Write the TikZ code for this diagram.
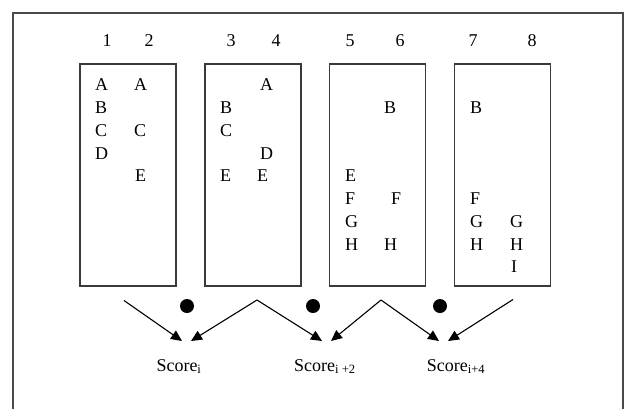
\documentclass[tikz,border=0pt]{standalone}
\usepackage{fontspec}
\setmainfont{Liberation Serif}
\usetikzlibrary{arrows.meta,positioning}
\definecolor{frameline}{HTML}{4A4A4A}
\definecolor{boxline}{HTML}{3A3A3A}

\begin{document}
\begin{tikzpicture}[
  x=1pt,y=-1pt,
  node distance=27.4pt,
  colbox/.style={draw=boxline,line width=1.4pt,minimum width=96pt,minimum height=222pt,inner sep=0pt},
  item/.style={anchor=base west,inner sep=0pt,font=\fontsize{18}{21}\selectfont},
  colnum/.style={inner sep=0pt,font=\fontsize{18}{21}\selectfont},
  score/.style={anchor=base,inner sep=0pt,font=\fontsize{18}{21}\selectfont},
  dot/.style={circle,fill=black,minimum size=14pt,inner sep=0pt},
  arrow/.style={-{Triangle[length=11pt,width=10pt]},line width=1.1pt}
]
  \useasboundingbox (0,0) rectangle (629,408);
  \draw[frameline,line width=1.2pt] (13,410) -- (13,13) -- (623,13) -- (623,410);

  % the four windows
  \node[colbox] (box1) at (128,175) {};
  \node[colbox,right=of box1] (box2) {};
  \node[colbox,right=of box2] (box3) {};
  \node[colbox,right=of box3] (box4) {};

  % column numbers
  \node[colnum] (num1) at (107,41) {1};
  \node[colnum] (num2) at (149,41) {2};
  \node[colnum] (num3) at (231,41) {3};
  \node[colnum] (num4) at (276,41) {4};
  \node[colnum] (num5) at (350,41) {5};
  \node[colnum] (num6) at (400,41) {6};
  \node[colnum] (num7) at (473,41) {7};
  \node[colnum] (num8) at (532,41) {8};

  % window 1
  \node[item] (c1a) at (95,90.8) {A};
  \node[item] (c1b) at (95,113.5) {B};
  \node[item] (c1c) at (95,136.3) {C};
  \node[item] (c1d) at (95,159) {D};
  \node[item] (c2a) at (134,90.8) {A};
  \node[item] (c2c) at (134,136.3) {C};
  \node[item] (c2e) at (135,181.8) {E};

  % window 2
  \node[item] (c3b) at (220,113.5) {B};
  \node[item] (c3c) at (220,136.3) {C};
  \node[item] (c3e) at (220,181.8) {E};
  \node[item] (c4a) at (260,90.8) {A};
  \node[item] (c4d) at (260,159) {D};
  \node[item] (c4e) at (257,181.8) {E};

  % window 3
  \node[item] (c5e) at (345,181.8) {E};
  \node[item] (c5f) at (345,204.5) {F};
  \node[item] (c5g) at (345,227.3) {G};
  \node[item] (c5h) at (345,250) {H};
  \node[item] (c6b) at (384,113.5) {B};
  \node[item] (c6f) at (391,204.5) {F};
  \node[item] (c6h) at (384,250) {H};

  % window 4
  \node[item] (c7b) at (470,113.5) {B};
  \node[item] (c7f) at (470,204.5) {F};
  \node[item] (c7g) at (470,227.3) {G};
  \node[item] (c7h) at (470,250) {H};
  \node[item] (c8g) at (510,227.3) {G};
  \node[item] (c8h) at (510,250) {H};
  \node[item] (c8i) at (511,272.8) {I};

  % dots between the windows
  \node[dot] (dot1) at (187,306) {};
  \node[dot] (dot2) at (313,306) {};
  \node[dot] (dot3) at (440,306) {};

  % scores
  \node[score] (score1) at (179,371) {Score\textsubscript{i}};
  \node[score] (score2) at (325,371) {Score\textsubscript{i +2}};
  \node[score] (score3) at (456,371) {Score\textsubscript{i+4}};

  \coordinate (start1) at (124,300.5);
  \coordinate (apex1) at (257,300);
  \coordinate (apex2) at (381,300);
  \coordinate (start2) at (513,299.5);
  \coordinate (tip1) at (182,341);
  \coordinate (tip2) at (191,341);
  \coordinate (tip3) at (322,341);
  \coordinate (tip4) at (331,341);
  \coordinate (tip5) at (439,341);
  \coordinate (tip6) at (448,341);
  \draw[arrow] (start1) -- (tip1);
  \draw[arrow] (apex1) -- (tip2);
  \draw[arrow] (apex1) -- (tip3);
  \draw[arrow] (apex2) -- (tip4);
  \draw[arrow] (apex2) -- (tip5);
  \draw[arrow] (start2) -- (tip6);
\end{tikzpicture}
\end{document}
